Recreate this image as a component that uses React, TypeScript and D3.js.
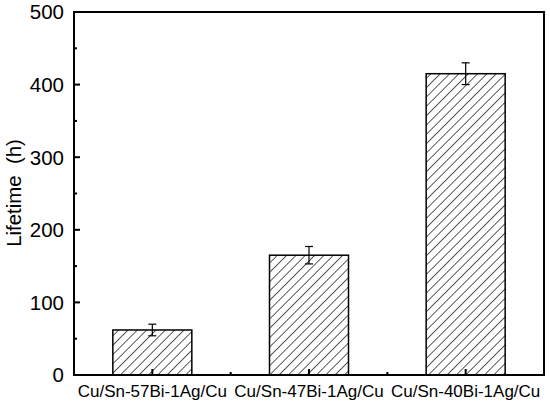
import React from "react";
import * as d3 from "d3";

const categories = ["Cu/Sn-57Bi-1Ag/Cu", "Cu/Sn-47Bi-1Ag/Cu", "Cu/Sn-40Bi-1Ag/Cu"];
const lifetimes = [62, 165, 415];
const errors = [8, 12, 15];
const yTicks = [0, 100, 200, 300, 400, 500];
const yMinorTicks = [50, 150, 250, 350, 450];

const W = 550, H = 402;
const M = { left: 74, right: 6, top: 12, bottom: 27 };

export default function App() {
  const x0 = M.left, x1 = W - M.right, y0 = H - M.bottom, y1 = M.top;
  const x = d3.scaleLinear().domain([-0.5, 2.5]).range([x0, x1]);
  const y = d3.scaleLinear().domain([0, 500]).range([y0, y1]);
  const bw = 79;
  const font = "Liberation Sans, Arial, sans-serif";
  return (
    <svg width={W} height={H} style={{ position: "absolute", left: 0, top: 0, background: "#fff" }}>
      <defs>
        <pattern id="hatch" patternUnits="userSpaceOnUse" width={6.6} height={6.6} patternTransform="rotate(45)">
          <line x1={0} y1={0} x2={0} y2={6.6} stroke="#000" strokeWidth={1.3} />
        </pattern>
      </defs>
      {lifetimes.map((v, i) => (
        <g key={i}>
          <rect x={x(i) - bw / 2} y={y(v)} width={bw} height={y0 - y(v)} fill="url(#hatch)" stroke="#000" strokeWidth={1.5} />
          <line x1={x(i)} x2={x(i)} y1={y(v + errors[i])} y2={y(v - errors[i])} stroke="#000" strokeWidth={1.2} />
          <line x1={x(i) - 4} x2={x(i) + 4} y1={y(v + errors[i])} y2={y(v + errors[i])} stroke="#000" strokeWidth={1.2} />
          <line x1={x(i) - 4} x2={x(i) + 4} y1={y(v - errors[i])} y2={y(v - errors[i])} stroke="#000" strokeWidth={1.2} />
        </g>
      ))}
      <rect x={x0} y={y1} width={x1 - x0} height={y0 - y1} fill="none" stroke="#000" strokeWidth={2} />
      {yTicks.map((t) => (
        <g key={t}>
          <line x1={x0} x2={x0 + 6} y1={y(t)} y2={y(t)} stroke="#000" strokeWidth={2} />
          <text x={x0 - 10} y={y(t)} dy="0.36em" textAnchor="end" fontFamily={font} fontSize={20.5}>{t}</text>
        </g>
      ))}
      {yMinorTicks.map((t) => (
        <line key={t} x1={x0} x2={x0 + 3} y1={y(t)} y2={y(t)} stroke="#000" strokeWidth={2} />
      ))}
      {categories.map((c, i) => (
        <g key={c}>
          <line x1={x(i)} x2={x(i)} y1={y0} y2={y0 - 6} stroke="#000" strokeWidth={2} />
          <text x={x(i)} y={y0 + 22} textAnchor="middle" fontFamily={font} fontSize={17}>{c}</text>
        </g>
      ))}
      {[0.5, 1.5].map((t) => (
        <line key={t} x1={x(t)} x2={x(t)} y1={y0} y2={y0 - 3} stroke="#000" strokeWidth={2} />
      ))}
      <text transform={`translate(21,${193}) rotate(-90)`} textAnchor="middle" fontFamily={font} fontSize={20.4}>
        Lifetime{"\u00a0\u00a0"}(h)
      </text>
    </svg>
  );
}
